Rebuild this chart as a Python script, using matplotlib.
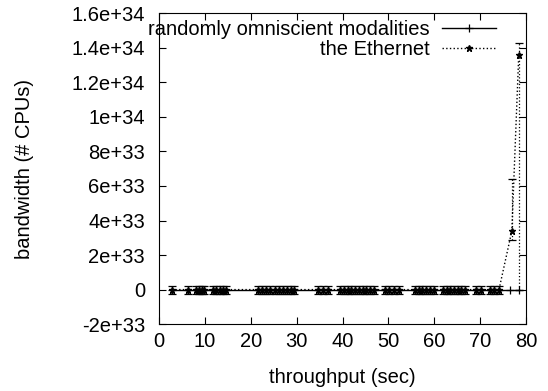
import numpy as np
import matplotlib
matplotlib.use("Agg")
import matplotlib.pyplot as plt
from matplotlib.ticker import FuncFormatter
from matplotlib.container import ErrorbarContainer

plt.rcParams['font.family'] = ['Liberation Sans', 'DejaVu Sans']

# data
x_zero = [2.8, 6.3, 8.1, 8.7, 9.3, 9.8, 11.8, 12.5, 13.2, 13.9, 14.6,
          21.6, 22.5, 23.4, 24.3, 25.2, 26.1, 27.0, 27.9, 28.7, 29.4,
          34.6, 35.7, 36.8,
          39.4, 40.3, 41.1, 41.9, 42.7, 43.5, 44.4, 45.2, 46.0, 46.8,
          49.2, 50.2, 51.3, 52.3,
          55.8, 56.6, 57.4, 58.3, 59.1, 59.9,
          61.9, 62.7, 63.5, 64.3, 65.1, 65.9, 66.7,
          69.1, 70.2, 72.1, 73.1, 74.1]

modal_x = x_zero + [76.5, 78.4]
modal_y = [0.0] * len(modal_x)

eth_x = x_zero + [76.9, 78.4]
eth_y = [0.0] * len(x_zero) + [3.4e33, 1.357e34]
eth_lo = [2.3e32] * len(x_zero) + [0.5e33, 1.357e34]
eth_hi = [2.3e32] * len(x_zero) + [3.0e33, 0.07e34]

xticks = list(range(0, 81, 10))
yticks = [-2e33, 0, 2e33, 4e33, 6e33, 8e33, 1e34, 1.2e34, 1.4e34, 1.6e34]


def fmt(v, pos):
    if v == 0:
        return "0"
    s = "%g" % v
    m, e = s.split("e")
    return "%se+%d" % (m, int(e)) if int(e) > 0 else s


fs = 14.5
fig = plt.figure(figsize=(5.48, 3.91), dpi=100)
ax = fig.add_axes([0.290, 0.171, 0.670, 0.795])

ax.plot(modal_x, modal_y, color='black', lw=1.0, marker='+', ms=6, mew=0.9,
        label='randomly omniscient modalities')
eb = ax.errorbar(eth_x, eth_y, yerr=[eth_lo, eth_hi], color='black', lw=1.0,
                 ls=':', marker='*', ms=5, capsize=3.2, elinewidth=0.9,
                 capthick=0.9, label='the Ethernet')
eb[2][0].set_linestyle(':')

ax.set_xlim(0, 80)
ax.set_ylim(-2e33, 1.6e34)
ax.set_xticks(xticks)
ax.set_yticks(yticks)
ax.yaxis.set_major_formatter(FuncFormatter(fmt))
ax.tick_params(direction='in', top=True, right=True, labelsize=fs, length=5)
ax.tick_params(axis='y', pad=10)
ax.tick_params(axis='x', pad=6)
ax.set_xlabel('throughput (sec)', fontsize=fs, labelpad=12)
ax.set_ylabel('bandwidth (# CPUs)', fontsize=fs, labelpad=27)

h, l = ax.get_legend_handles_labels()
h = [hh[0] if isinstance(hh, ErrorbarContainer) else hh for hh in h]
ax.legend(h, l, loc='upper right', frameon=False, markerfirst=False,
          fontsize=fs, handlelength=2.7, handletextpad=0.6, borderaxespad=0.0,
          borderpad=0.2, labelspacing=0.05, bbox_to_anchor=(0.93, 0.99))

fig.savefig('out.png', dpi=100)
